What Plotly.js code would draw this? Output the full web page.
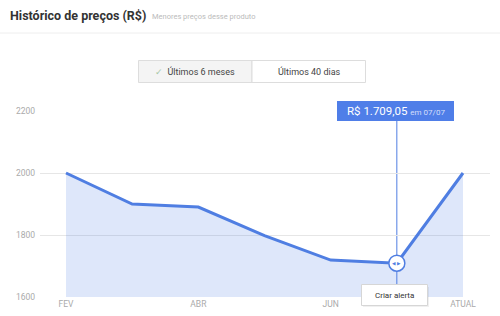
<!DOCTYPE html>
<html><head><meta charset="utf-8">
<script src="https://cdn.plot.ly/plotly-3.0.1.min.js"></script>
<style>html,body{margin:0;padding:0;background:#fff}#chart{width:500px;height:316px}</style>
</head><body><div id="chart"></div>
<script>
const months = ['FEV','MAR','ABR','MAI','JUN','JUL','ATUAL'];
const prices = [2000, 1900, 1890, 1798, 1719, 1709.05, 2000];
const tickMonths = ['FEV','ABR','JUN','ATUAL'];
const yTicks = [1600, 1800, 2000, 2200];
const selectedMonth = 'JUL';
const tooltipPrice = 'R$ 1.709,05';
const tooltipDate = 'em 07/07';

const L = 40, R = 490, T = 111, B = 297;
const px = v => (v - L) / (R - L);
const py = v => (B - v) / (B - T);
const blue = '#4f7ee2';
const selIdx = months.indexOf(selectedMonth);

const traces = [
  {x: months, y: prices, type: 'scatter', mode: 'lines', fill: 'tozeroy',
   fillcolor: 'rgba(79,126,226,0.19)', line: {color: blue, width: 3}, hoverinfo: 'skip'},
  {x: [selectedMonth], y: [prices[selIdx]], type: 'scatter', mode: 'markers',
   marker: {size: 16, color: '#fff', line: {color: blue, width: 1.5}}, hoverinfo: 'skip'}
];

const layout = {
  width: 500, height: 316,
  margin: {l: L, r: 500 - R, t: T, b: 316 - B},
  paper_bgcolor: '#fff', plot_bgcolor: '#fff',
  showlegend: false,
  font: {family: 'Roboto, sans-serif'},
  xaxis: {type: 'category', categoryarray: months, range: [-0.393, 6.408],
    tickvals: tickMonths, ticktext: tickMonths, showgrid: false, zeroline: false,
    showline: false, ticks: '', tickfont: {size: 8.5, color: '#aaa'}, fixedrange: true},
  yaxis: {range: [1600, 2200], tickvals: yTicks, showgrid: true, gridcolor: '#e6e6e6',
    gridwidth: 1, zeroline: false, showline: false, ticks: '', ticklabelstandoff: 4,
    tickfont: {size: 8.5, color: '#aaa'}, fixedrange: true},
  shapes: [
    {type: 'line', xref: 'paper', yref: 'paper', x0: px(0), x1: px(500), y0: py(33), y1: py(33),
     line: {color: '#eeeeee', width: 1}},
    {type: 'rect', xref: 'paper', yref: 'paper', x0: px(138.5), x1: px(252), y0: py(60.5), y1: py(82.5),
     fillcolor: '#f4f4f4', line: {color: '#dddddd', width: 1}},
    {type: 'rect', xref: 'paper', yref: 'paper', x0: px(252), x1: px(365.5), y0: py(60.5), y1: py(82.5),
     fillcolor: '#ffffff', line: {color: '#dddddd', width: 1}},
    {type: 'line', xref: 'x', yref: 'paper', x0: selIdx, x1: selIdx, y0: py(285), y1: py(120),
     line: {color: blue, width: 1}, layer: 'below'},
    {type: 'rect', xref: 'paper', yref: 'paper', x0: px(363), x1: px(429), y0: py(287), y1: py(307),
     fillcolor: 'rgba(0,0,0,0.06)', line: {width: 0}},
    {type: 'rect', xref: 'paper', yref: 'paper', x0: px(361.5), x1: px(427.5), y0: py(284.5), y1: py(305.5),
     fillcolor: '#ffffff', line: {color: '#d6d6d6', width: 1}},
    {type: 'rect', xref: 'paper', yref: 'paper', x0: px(337), x1: px(454), y0: py(101), y1: py(121),
     fillcolor: '#4f7ee8', line: {width: 0}}
  ],
  annotations: [
    {xref: 'paper', yref: 'paper', x: px(8), y: py(15), xanchor: 'left', yanchor: 'middle', showarrow: false,
     text: '<b>Histórico de preços (R$)</b>', font: {size: 12.5, color: '#333'}},
    {xref: 'paper', yref: 'paper', x: px(150), y: py(16), xanchor: 'left', yanchor: 'middle', showarrow: false,
     text: 'Menores preços desse produto', font: {size: 7.5, color: '#bbbbbb'}},
    {xref: 'paper', yref: 'paper', x: px(195), y: py(71.5), xanchor: 'center', yanchor: 'middle', showarrow: false,
     text: '<span style="color:#a8c8a8">✓</span>  Últimos 6 meses', font: {size: 9, color: '#444'}},
    {xref: 'paper', yref: 'paper', x: px(309), y: py(71.5), xanchor: 'center', yanchor: 'middle', showarrow: false,
     text: 'Últimos 40 dias', font: {size: 9, color: '#444'}},
    {xref: 'paper', yref: 'paper', x: px(395.5), y: py(111), xanchor: 'center', yanchor: 'middle', showarrow: false,
     text: tooltipPrice + ' <span style="font-size:8px;color:#d4defa">' + tooltipDate + '</span>',
     font: {size: 11.5, color: '#ffffff'}},
    {xref: 'x', yref: 'y', x: selectedMonth, y: prices[selIdx], xanchor: 'center', yanchor: 'middle', showarrow: false,
     text: '◀ ▶', font: {family: 'DejaVu Sans', size: 4.5, color: blue}},
    {xref: 'paper', yref: 'paper', x: px(394.5), y: py(295), xanchor: 'center', yanchor: 'middle', showarrow: false,
     text: 'Criar alerta', font: {size: 8, color: '#333'}}
  ]
};
Plotly.newPlot('chart', traces, layout, {staticPlot: true, displayModeBar: false});
</script></body></html>
